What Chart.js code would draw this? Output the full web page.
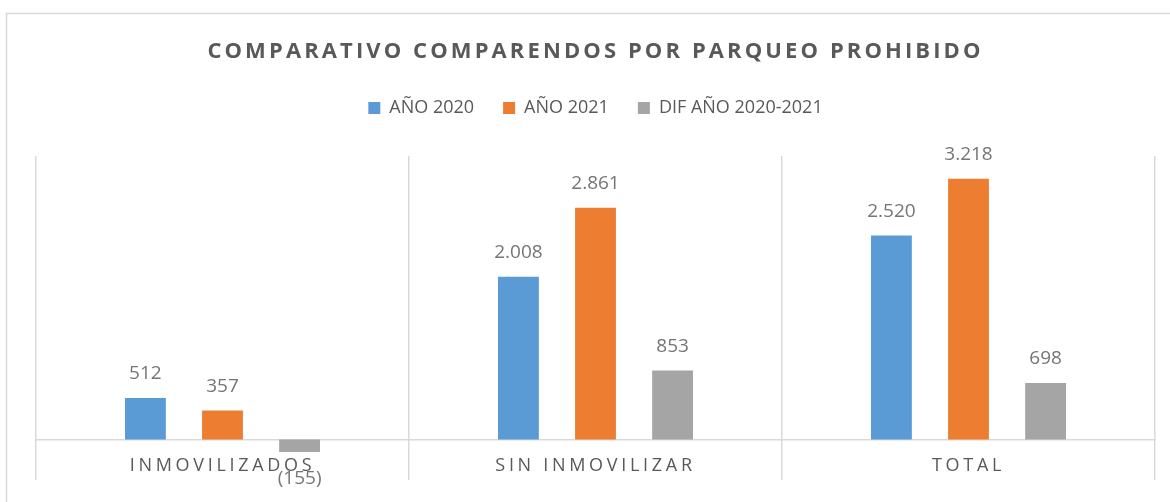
<!DOCTYPE html>
<html>
<head>
<meta charset="utf-8">
<script src="https://cdn.jsdelivr.net/npm/chart.js@4.4.1/dist/chart.umd.min.js"></script>
<style>
  html, body { margin: 0; padding: 0; background: #ffffff; }
  #wrap { width: 1170px; height: 502px; }
</style>
</head>
<body>
<div id="wrap"><canvas id="c" width="1170" height="502"></canvas></div>
<script>
const chartTitle = 'COMPARATIVO COMPARENDOS POR PARQUEO PROHIBIDO';
const categories = ['INMOVILIZADOS', 'SIN INMOVILIZAR', 'TOTAL'];
const seriesNames = ['AÑO 2020', 'AÑO 2021', 'DIF AÑO 2020-2021'];
const anio2020 = [512, 2008, 2520];
const anio2021 = [357, 2861, 3218];
const difAnios = [-155, 853, 698];

const COLORS = ['#5B9BD5', '#ED7D31', '#A5A5A5'];
const TEXT = '#595959';
const GRID = '#d9d9d9';

function fmt(v) {
  const s = Math.abs(v).toString().replace(/\B(?=(\d{3})+(?!\d))/g, '.');
  return v < 0 ? '(' + s + ')' : s;
}

const frame = {
  id: 'frame',
  beforeDraw(chart) {
    const ctx = chart.ctx;
    ctx.save();
    ctx.strokeStyle = GRID;
    ctx.lineWidth = 1.5;
    ctx.beginPath();
    ctx.moveTo(6.5, 502);
    ctx.lineTo(6.5, 13.5);
    ctx.lineTo(1170, 13.5);
    ctx.stroke();
    ctx.restore();
    // letter spacing for title and category labels
    const t = chart.titleBlock;
    if (t && !t._ls) {
      const o = t.draw;
      t.draw = function () { const c = this.ctx; c.save(); c.letterSpacing = '3.1px'; o.apply(this, arguments); c.restore(); };
      t._ls = true;
    }
    const x = chart.scales.x;
    if (x && !x._ls) {
      const o = x.drawLabels;
      x.drawLabels = function () { const c = this.ctx; c.save(); c.letterSpacing = '3.7px'; o.apply(this, arguments); c.restore(); };
      x._ls = true;
    }
  }
};

const valueLabels = {
  id: 'valueLabels',
  afterDatasetsDraw(chart) {
    const ctx = chart.ctx;
    ctx.save();
    ctx.font = '19px "Open Sans"';
    ctx.fillStyle = '#757575';
    ctx.textAlign = 'center';
    ctx.textBaseline = 'middle';
    chart.data.datasets.forEach((ds, i) => {
      const meta = chart.getDatasetMeta(i);
      meta.data.forEach((el, j) => {
        const v = ds.data[j];
        const y = v >= 0 ? el.y - 24 : el.y + 27;
        ctx.fillText(fmt(v), el.x, y);
      });
    });
    ctx.restore();
  }
};

const chart = new Chart(document.getElementById('c'), {
  type: 'bar',
  data: {
    labels: categories,
    datasets: [
      { label: seriesNames[0], data: anio2020, backgroundColor: COLORS[0] },
      { label: seriesNames[1], data: anio2021, backgroundColor: COLORS[1] },
      { label: seriesNames[2], data: difAnios, backgroundColor: COLORS[2] }
    ]
  },
  options: {
    responsive: false,
    animation: false,
    devicePixelRatio: 1,
    categoryPercentage: 0.62,
    barPercentage: 0.53,
    layout: { padding: { top: 0, left: 36, right: 15, bottom: 22 } },
    plugins: {
      tooltip: { enabled: false },
      title: {
        display: true,
        text: chartTitle,
        color: TEXT,
        font: { family: '"Open Sans"', size: 22, weight: 'bold', lineHeight: 1.2 },
        padding: { top: 39, bottom: 4.6 }
      },
      subtitle: {
        display: true,
        text: '',
        weight: 500,
        font: { size: 10, lineHeight: 1 },
        padding: { top: 19, bottom: 0 }
      },
      legend: {
        display: true,
        position: 'top',
        labels: {
          color: TEXT,
          font: { family: '"Open Sans"', size: 18 },
          boxWidth: 12,
          boxHeight: 12,
          padding: 29
        }
      }
    },
    scales: {
      x: {
        position: { y: 0 },
        grid: { display: true, offset: true, color: GRID, lineWidth: 1.5, drawTicks: false },
        border: { display: true, color: GRID, width: 1.5 },
        ticks: { color: TEXT, font: { family: '"Open Sans"', size: 18 }, padding: 16, maxRotation: 0 }
      },
      y: {
        display: false,
        min: -500,
        max: 3500
      }
    }
  },
  plugins: [frame, valueLabels]
});
chart.draw();
</script>
</body>
</html>
